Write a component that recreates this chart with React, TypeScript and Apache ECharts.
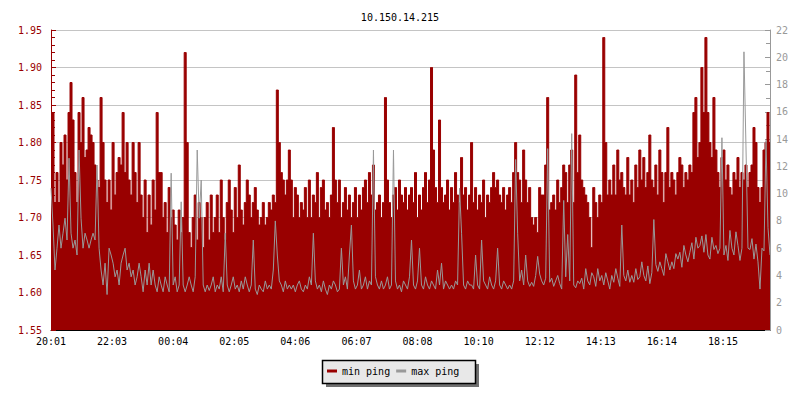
import React, { useEffect, useRef } from "react";
import * as echarts from "echarts";

const TITLE = "10.150.14.215";
const SAMPLE_MINUTES = 4;
const TICK_MINUTES = 122;
const tickLabels = ["20:01", "22:03", "00:04", "02:05", "04:06", "06:07", "08:08", "10:10", "12:12", "14:13", "16:14", "18:15"];

// min ping (left axis, ms)
const minPing = [
  1.79, 1.84, 1.72, 1.76, 1.72, 1.80, 1.77, 1.81, 1.75, 1.84,
  1.88, 1.83, 1.76, 1.72, 1.84, 1.80, 1.86, 1.78, 1.79, 1.82,
  1.81, 1.80, 1.77, 1.75, 1.74, 1.86, 1.80, 1.75, 1.72, 1.75,
  1.71, 1.80, 1.73, 1.76, 1.78, 1.77, 1.84, 1.76, 1.80, 1.75,
  1.73, 1.80, 1.76, 1.72, 1.80, 1.73, 1.70, 1.75, 1.68, 1.73,
  1.69, 1.75, 1.71, 1.84, 1.76, 1.76, 1.70, 1.72, 1.68, 1.74,
  1.70, 1.71, 1.69, 1.67, 1.71, 1.68, 1.70, 1.92, 1.80, 1.68,
  1.66, 1.70, 1.73, 1.67, 1.72, 1.70, 1.66, 1.70, 1.72, 1.67,
  1.73, 1.68, 1.70, 1.73, 1.68, 1.75, 1.70, 1.67, 1.72, 1.75,
  1.71, 1.68, 1.74, 1.70, 1.77, 1.71, 1.69, 1.72, 1.75, 1.73,
  1.70, 1.72, 1.74, 1.71, 1.69, 1.70, 1.72, 1.69, 1.70, 1.72,
  1.71, 1.73, 1.72, 1.87, 1.80, 1.76, 1.75, 1.73, 1.75, 1.79,
  1.75, 1.70, 1.74, 1.73, 1.70, 1.72, 1.71, 1.74, 1.70, 1.75,
  1.70, 1.73, 1.72, 1.76, 1.70, 1.74, 1.75, 1.71, 1.72, 1.70,
  1.73, 1.82, 1.75, 1.72, 1.75, 1.70, 1.72, 1.74, 1.71, 1.73,
  1.70, 1.72, 1.74, 1.70, 1.73, 1.71, 1.74, 1.75, 1.72, 1.76,
  1.73, 1.77, 1.71, 1.72, 1.73, 1.70, 1.72, 1.86, 1.75, 1.72,
  1.70, 1.73, 1.74, 1.71, 1.75, 1.73, 1.72, 1.74, 1.71, 1.73,
  1.74, 1.72, 1.76, 1.70, 1.73, 1.71, 1.74, 1.76, 1.72, 1.75,
  1.90, 1.79, 1.74, 1.72, 1.83, 1.74, 1.72, 1.73, 1.75, 1.71,
  1.74, 1.72, 1.76, 1.73, 1.72, 1.78, 1.73, 1.74, 1.71, 1.73,
  1.80, 1.72, 1.74, 1.71, 1.73, 1.72, 1.75, 1.70, 1.73, 1.72,
  1.74, 1.76, 1.74, 1.75, 1.73, 1.72, 1.74, 1.71, 1.73, 1.74,
  1.72, 1.76, 1.80, 1.76, 1.75, 1.72, 1.79, 1.75, 1.72, 1.74,
  1.70, 1.69, 1.70, 1.68, 1.74, 1.73, 1.73, 1.77, 1.86, 1.71,
  1.72, 1.73, 1.71, 1.75, 1.72, 1.74, 1.77, 1.76, 1.72, 1.77,
  1.79, 1.72, 1.89, 1.76, 1.81, 1.75, 1.74, 1.73, 1.72, 1.70,
  1.66, 1.74, 1.72, 1.70, 1.73, 1.72, 1.94, 1.80, 1.73, 1.75,
  1.73, 1.77, 1.73, 1.79, 1.75, 1.76, 1.74, 1.73, 1.78, 1.73,
  1.75, 1.72, 1.77, 1.74, 1.79, 1.75, 1.78, 1.74, 1.76, 1.81,
  1.75, 1.74, 1.77, 1.73, 1.79, 1.76, 1.72, 1.76, 1.82, 1.74,
  1.76, 1.75, 1.73, 1.76, 1.78, 1.77, 1.74, 1.76, 1.75, 1.77,
  1.76, 1.84, 1.86, 1.78, 1.80, 1.90, 1.84, 1.94, 1.84, 1.80,
  1.78, 1.86, 1.79, 1.76, 1.74, 1.78, 1.79, 1.75, 1.77, 1.74,
  1.73, 1.76, 1.75, 1.78, 1.74, 1.76, 1.75, 1.77, 1.74, 1.76,
  1.77, 1.82, 1.80, 1.74, 1.72, 1.74, 1.79, 1.80, 1.84, 1.80,
];

// max ping (right axis, ms)
const maxPing = [
  10.4, 7.7, 4.4, 6.0, 7.7, 6.0, 7.1, 8.2, 6.6, 12.6,
  7.1, 6.0, 6.6, 5.5, 13.2, 8.2, 6.0, 7.1, 6.6, 6.0,
  6.6, 7.1, 6.6, 12.1, 6.0, 4.4, 3.3, 4.9, 2.6, 6.0,
  5.5, 4.9, 3.9, 4.4, 3.3, 4.9, 5.5, 6.0, 4.4, 4.9,
  3.9, 4.4, 3.3, 3.9, 4.9, 3.9, 2.8, 4.4, 3.3, 4.9,
  3.3, 4.4, 3.3, 2.8, 3.9, 3.3, 2.8, 3.9, 3.3, 2.8,
  11.5, 3.3, 3.9, 2.8, 3.3, 9.4, 3.3, 2.8, 3.3, 3.9,
  3.3, 2.8, 3.9, 13.2, 8.2, 11.0, 3.3, 2.8, 3.3, 2.9,
  3.3, 3.9, 2.8, 3.3, 3.0, 3.9, 2.8, 7.1, 3.3, 2.8,
  3.3, 3.9, 3.0, 3.3, 2.8, 3.6, 3.0, 3.9, 3.3, 2.8,
  3.3, 6.6, 3.0, 2.6, 3.3, 3.0, 2.8, 3.6, 3.0, 3.3,
  3.0, 4.4, 8.0, 5.5, 3.6, 3.3, 2.8, 3.6, 3.0, 3.3,
  3.0, 3.3, 2.8, 3.3, 3.6, 3.0, 2.8, 3.3, 3.0, 3.9,
  3.3, 7.1, 3.6, 3.0, 3.3, 2.8, 3.6, 3.0, 2.6, 3.3,
  3.0, 3.6, 3.3, 2.8, 3.0, 6.0, 3.3, 3.9, 3.0, 5.5,
  7.7, 3.6, 3.0, 3.3, 4.4, 3.0, 3.3, 3.9, 3.0, 3.6,
  3.3, 13.2, 3.9, 3.3, 3.0, 3.6, 3.0, 3.3, 3.9, 3.0,
  3.3, 13.2, 3.6, 3.0, 3.3, 2.8, 3.6, 3.3, 3.0, 3.9,
  6.6, 3.3, 3.0, 3.6, 6.0, 3.3, 3.0, 3.9, 3.3, 3.0,
  3.6, 3.3, 3.0, 4.4, 3.3, 4.9, 3.0, 3.6, 3.3, 3.0,
  3.3, 3.0, 3.6, 3.3, 10.4, 7.1, 3.3, 3.0, 3.6, 3.3,
  3.3, 3.0, 5.5, 3.3, 3.0, 6.6, 3.6, 3.3, 3.0, 3.9,
  3.3, 3.0, 3.6, 6.0, 3.3, 3.0, 3.6, 3.3, 3.0, 3.3,
  3.0, 3.6, 12.5, 7.1, 3.6, 4.4, 3.3, 5.5, 3.6, 3.2,
  3.5, 3.2, 4.0, 5.4, 4.1, 3.6, 3.3, 3.8, 13.3, 3.5,
  3.8, 3.2, 3.6, 4.0, 3.4, 3.0, 9.5, 3.9, 7.0, 3.6,
  14.4, 3.3, 3.1, 3.6, 3.4, 3.8, 3.0, 4.5, 3.6, 3.3,
  4.2, 3.9, 3.2, 4.5, 3.6, 4.0, 3.3, 4.2, 3.6, 3.0,
  4.0, 3.5, 4.5, 3.8, 3.2, 7.7, 4.0, 3.6, 4.4, 3.5,
  4.0, 3.5, 4.5, 3.7, 3.9, 5.0, 4.0, 3.6, 4.7, 3.4,
  4.2, 8.1, 4.8, 4.3, 5.0, 4.5, 4.0, 5.6, 5.0, 4.4,
  5.0, 4.5, 5.6, 5.2, 5.7, 4.6, 6.2, 5.5, 5.0, 5.7,
  6.4, 5.2, 6.8, 6.0, 6.2, 6.9, 5.7, 7.0, 5.5, 5.2,
  6.8, 5.9, 6.2, 5.6, 6.0, 14.1, 5.5, 6.2, 5.1, 7.3,
  6.0, 5.5, 7.2, 6.2, 5.1, 6.0, 20.4, 13.5, 6.0, 5.9,
  6.7, 5.2, 6.3, 5.0, 3.0, 6.0, 5.8, 13.9, 7.5, 5.5,
];

const RED = "#990000";
const GRAY = "#999999";
const FONT = "DejaVu Sans Mono";

export default function App() {
  const ref = useRef<HTMLDivElement>(null);

  useEffect(() => {
    if (!ref.current) return;
    const chart = echarts.init(ref.current, null, { renderer: "svg" });
    const xMax = (minPing.length - 1) * SAMPLE_MINUTES;
    const tickValues = tickLabels.map((_, k) => k * TICK_MINUTES);
    const fmtX = (v: number) => {
      const k = Math.round(v / TICK_MINUTES);
      return Math.abs(k * TICK_MINUTES - v) < 0.5 && tickLabels[k] ? tickLabels[k] : "";
    };

    chart.setOption({
      animation: false,
      backgroundColor: "#ffffff",
      title: {
        text: TITLE,
        left: "center",
        top: 7,
        textStyle: { fontFamily: FONT, fontSize: 10, fontWeight: "normal", color: "#000" },
      },
      grid: { left: 51, right: 30, top: 30, bottom: 70, containLabel: false },
      graphic: [
        { type: "rect", z: 0, shape: { x: 326, y: 364, width: 153, height: 23 }, style: { fill: "#707070" } },
        { type: "rect", z: 1, shape: { x: 322.5, y: 360.5, width: 153, height: 23 }, style: { fill: "#e8e8e8", stroke: "#000", lineWidth: 1.5 } },
      ],
      legend: {
        z: 10,
        left: 327,
        top: 366,
        padding: 0,
        itemGap: 6,
        itemWidth: 10,
        itemHeight: 3,
        textStyle: { fontFamily: FONT, fontSize: 10, color: "#000", padding: [0, 0, 0, 0] },
        data: [
          { name: "min ping", icon: "rect", itemStyle: { color: RED, borderWidth: 0 } },
          { name: "max ping", icon: "rect", itemStyle: { color: GRAY, borderWidth: 0 } },
        ],
      },
      xAxis: {
        type: "value",
        min: 0,
        max: xMax,
        interval: TICK_MINUTES,
        axisLine: { show: true, lineStyle: { color: "#000", width: 1 } },
        axisTick: { show: true, inside: true, length: 4, lineStyle: { color: "#000" }, customValues: tickValues },
        axisLabel: { customValues: tickValues, formatter: fmtX, color: "#000", fontFamily: FONT, fontSize: 10, margin: 6 },
        splitLine: { show: false },
      },
      yAxis: [
        {
          type: "value",
          position: "left",
          min: 1.55,
          max: 1.95,
          interval: 0.05,
          axisLine: { show: true, lineStyle: { color: RED, width: 1 } },
          axisTick: { show: true, inside: true, length: 5, lineStyle: { color: RED } },
          minorTick: { show: true, splitNumber: 5, length: 4, lineStyle: { color: RED } },
          axisLabel: { color: RED, fontFamily: FONT, fontSize: 10, margin: 9, formatter: (v: number) => v.toFixed(2) },
          splitLine: { show: true, lineStyle: { color: "#c4c4c4", width: 1 } },
        },
        {
          type: "value",
          position: "right",
          min: 0,
          max: 22,
          interval: 2,
          axisLine: { show: true, lineStyle: { color: GRAY, width: 1 } },
          axisTick: { show: true, inside: true, length: 5, lineStyle: { color: GRAY } },
          minorTick: { show: true, splitNumber: 2, length: 4, lineStyle: { color: GRAY } },
          axisLabel: { color: GRAY, fontFamily: FONT, fontSize: 10, margin: 6 },
          splitLine: { show: false },
        },
      ],
      series: [
        {
          name: "min ping",
          type: "line",
          yAxisIndex: 0,
          step: "middle",
          showSymbol: false,
          symbol: "none",
          color: RED,
          lineStyle: { color: RED, width: 1 },
          areaStyle: { color: RED, opacity: 1, origin: "start" },
          data: minPing.map((v, i) => [i * SAMPLE_MINUTES, v]),
          z: 2,
        },
        {
          name: "max ping",
          type: "line",
          yAxisIndex: 1,
          showSymbol: false,
          symbol: "none",
          color: GRAY,
          lineStyle: { color: GRAY, width: 1 },
          data: maxPing.map((v, i) => [i * SAMPLE_MINUTES, v]),
          z: 3,
        },
      ],
    });

    return () => chart.dispose();
  }, []);

  return <div ref={ref} style={{ position: "fixed", left: 0, top: 0, width: 800, height: 400 }} />;
}
